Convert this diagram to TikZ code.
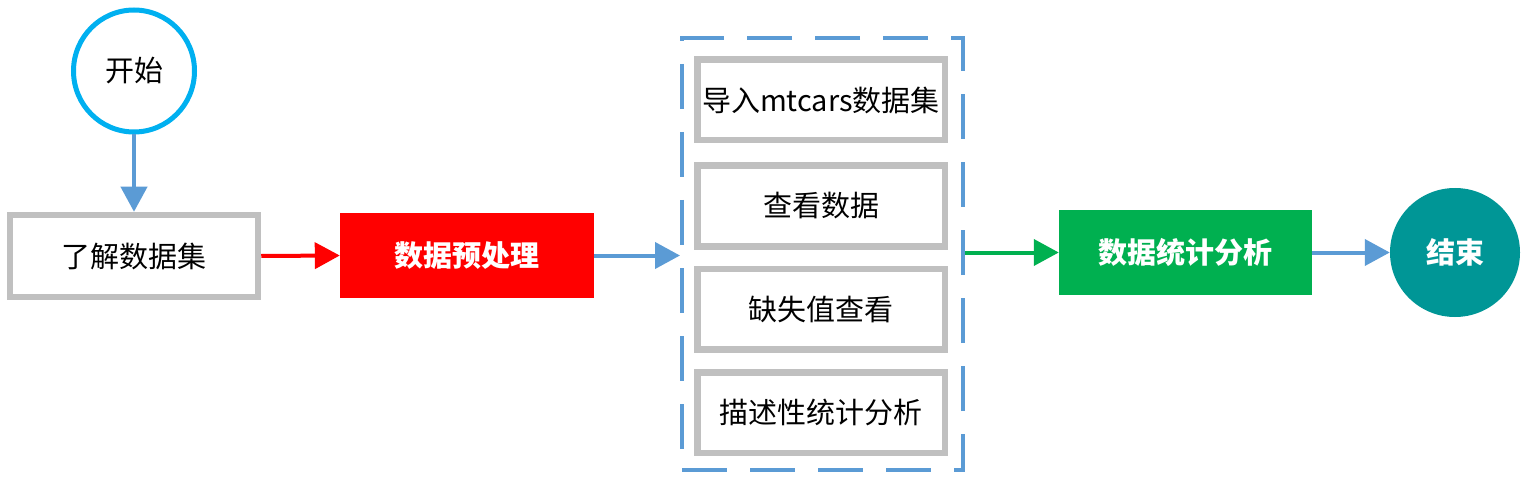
\documentclass[tikz,border=0pt]{standalone}
\usepackage{fontspec}
\setmainfont{Noto Sans CJK SC}
\usetikzlibrary{arrows.meta,shapes.geometric}
\definecolor{cyanline}{RGB}{0,176,240}
\definecolor{blueline}{RGB}{91,155,213}
\definecolor{grayline}{RGB}{192,192,192}
\definecolor{redfill}{RGB}{255,0,0}
\definecolor{greenfill}{RGB}{0,176,80}
\definecolor{tealfill}{RGB}{0,150,150}
\tikzset{
  lbl/.style={font=\fontsize{29}{34}\selectfont, text=black},
  wlbl/.style={font=\fontsize{29}{34}\selectfont\bfseries, text=white},
  graybox/.style={rectangle, draw=grayline, line width=6.5pt, fill=white, inner sep=0pt, minimum width=247.5pt, minimum height=80.5pt, lbl},
  fillbox/.style={rectangle, inner sep=0pt, minimum width=254pt, minimum height=85pt, wlbl},
  dashbox/.style={rectangle, draw=blueline, line width=4pt, dash pattern=on 45pt off 23pt, inner sep=0pt},
  conn/.style={line width=4pt, -{Triangle[width=26pt 0 0,length=25pt 0 0]}},
}
\begin{document}
\begin{tikzpicture}[x=1pt,y=-1pt]
\useasboundingbox (0,0) rectangle (1527,484);
\fill[white] (0,0) rectangle (1527,484);
% nodes
\node[ellipse, draw=cyanline, line width=5pt, fill=white, inner sep=0pt, minimum width=121pt, minimum height=122pt, lbl] (start) at (134,71) {开始};
\node[graybox, minimum width=248pt, minimum height=82pt] (know) at (134,256) {了解数据集};
\node[fillbox, fill=redfill] (pre) at (467,255.5) {数据预处理};
\node[dashbox, minimum width=281pt, minimum height=432pt] (cont) at (822.5,254) {};
\node[graybox] (s1) at (821,100) {导入mtcars数据集};
\node[graybox] (s2) at (821,206) {查看数据};
\node[graybox] (s3) at (821,309) {缺失值查看};
\node[graybox] (s4) at (821,412.5) {描述性统计分析};
\node[fillbox, fill=greenfill, minimum width=253pt] (stat) at (1185.5,252.5) {数据统计分析};
\node[ellipse, fill=tealfill, inner sep=0pt, minimum width=130pt, minimum height=129pt, wlbl] (end) at (1455,252.5) {结束};
% connectors
\draw[conn, blueline] (start.south) -- (know.north);
\draw[conn, redfill] (know.east) -- (pre.west);
\draw[conn, blueline] (pre.east) -- (pre.east -| cont.west);
\draw[conn, greenfill] (cont.east |- stat.west) -- (stat.west);
\draw[conn, blueline] (stat.east) -- (end.west);
\end{tikzpicture}
\end{document}
